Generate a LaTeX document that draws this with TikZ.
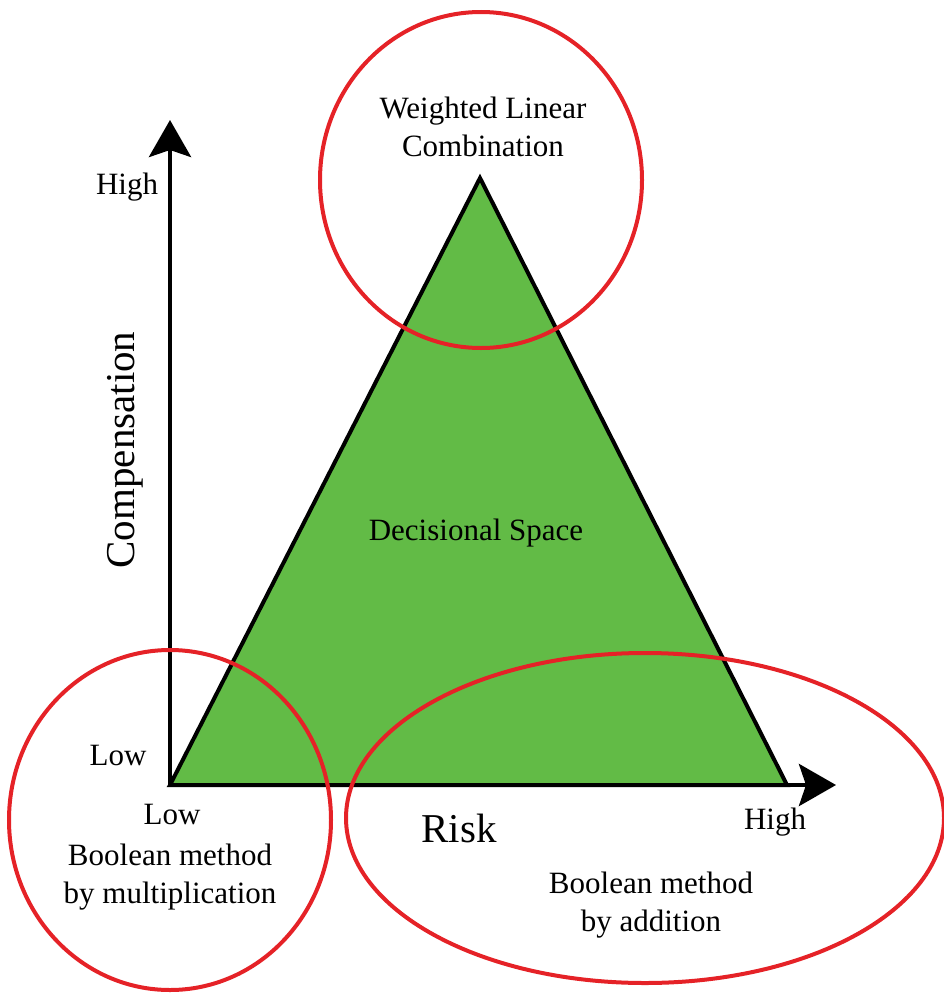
\documentclass[tikz,border=0pt]{standalone}
\usepackage{fontspec}
\setmainfont{Liberation Serif}
\usetikzlibrary{arrows.meta,shapes.geometric}
\definecolor{spacegreen}{RGB}{98,187,70}
\definecolor{ringred}{RGB}{229,34,39}
\begin{document}
\begin{tikzpicture}[x=1pt,y=-1pt,
  axisline/.style={line width=4.5pt,-{Stealth[length=37pt,width=42pt,inset=7pt]}},
  ring/.style={draw=ringred,line width=4pt,ellipse,inner sep=0pt},
  lbl/.style={font=\fontsize{31}{38}\selectfont,align=center,inner sep=0pt},
  biglbl/.style={font=\fontsize{41}{48}\selectfont,inner sep=0pt}]
\useasboundingbox (0,0) rectangle (944,993);
% axes and triangle corners
\coordinate (origin) at (170,785);
\coordinate (ytip) at (170,120);
\coordinate (xtip) at (836,785);
\coordinate (apex) at (480,178);
\coordinate (right) at (787,785);
% decisional space
\draw[fill=spacegreen,line width=4pt,line join=miter] (origin) -- (apex) -- (right) -- cycle;
\draw[axisline] ([yshift=2pt]origin) -- (ytip);
\draw[axisline] ([xshift=-2pt]origin) -- (xtip);
% method regions
\node[ring,minimum width=322pt,minimum height=336pt] (wlc) at (481,180) {};
\node[ring,minimum width=322pt,minimum height=340pt] (bmul) at (170,820) {};
\node[ring,minimum width=598pt,minimum height=330pt] (badd) at (645,818) {};
% labels
\node[lbl] (yhigh) at (127,187) {High};
\node[lbl] (ylow) at (118,755) {Low};
\node[lbl] (xlow) at (172,814) {Low};
\node[lbl] (xhigh) at (775,822) {High};
\node[biglbl] (risk) at (459,828) {Risk};
\node[biglbl,rotate=90] (comp) at (125,450) {Compensation};
\node[lbl] (space) at (476,533) {Decisional Space};
\node[lbl] (wlctext) at (483,127) {Weighted Linear\\Combination};
\node[lbl] (bmultext) at (170,877) {Boolean method\\by multiplication};
\node[lbl] (baddtext) at (651,905) {Boolean method\\by addition};
\end{tikzpicture}
\end{document}
